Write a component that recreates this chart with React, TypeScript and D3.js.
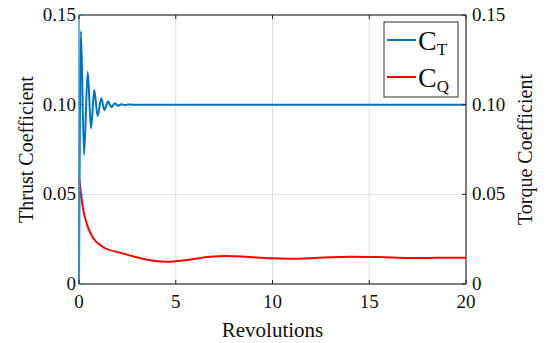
import * as d3 from 'd3'

// Thrust coefficient vs revolutions (left axis)
const ctRev = [0, 0.1, 0.26, 0.45, 0.62, 0.79, 0.96, 1.15, 1.31, 1.5, 1.68, 1.85, 2.02, 2.2, 2.38, 2.56, 2.8, 5, 10, 15, 20]
const ctVal = [0, 0.141, 0.072, 0.1184, 0.0868, 0.1082, 0.0937, 0.1036, 0.097, 0.1017, 0.0986, 0.1008, 0.0994, 0.1003, 0.0998, 0.1001, 0.1, 0.1, 0.1, 0.1, 0.1]

// Torque coefficient vs revolutions (right axis)
const cqRev = [0, 0.22, 0.45, 0.74, 1.26, 2.12, 2.98, 3.84, 4.53, 5.57, 6.77, 7.63, 8.6, 9.87, 10.9, 12.4, 14.0, 15.5, 17.1, 18.5, 20]
const cqVal = [0.0595, 0.0413, 0.032, 0.0255, 0.0205, 0.0175, 0.0149, 0.013, 0.0124, 0.0134, 0.0152, 0.0156, 0.0152, 0.0143, 0.0141, 0.0146, 0.0152, 0.015, 0.0145, 0.0146, 0.0147]

const xTicks = [0, 5, 10, 15, 20]
const yTicks = [0, 0.05, 0.1, 0.15]
const yTickLabels = ['0', '0.05', '0.10', '0.15']

const BLUE = '#0072BD'
const RED = '#ff0000'
const AXIS = '#555'
const FONT = "'Liberation Serif', serif"

export default function App() {
  const width = 546
  const height = 343
  const margin = { top: 15, right: 80, bottom: 59, left: 79 }
  const innerW = width - margin.left - margin.right
  const innerH = height - margin.top - margin.bottom

  const x = d3.scaleLinear().domain([0, 20]).range([0, innerW])
  const yL = d3.scaleLinear().domain([0, 0.15]).range([innerH, 0])
  const yR = d3.scaleLinear().domain([0, 0.15]).range([innerH, 0])

  const ctLine = d3
    .line<number>()
    .x((_, i) => x(ctRev[i]))
    .y((d) => yL(d))
    .curve(d3.curveMonotoneX)
  const cqLine = d3
    .line<number>()
    .x((_, i) => x(cqRev[i]))
    .y((d) => yR(d))
    .curve(d3.curveMonotoneX)

  const tick = 4

  return (
    <svg width={width} height={height} style={{ display: 'block', position: 'absolute', left: 0, top: 0, background: '#fff', fontFamily: FONT }}>
      <g transform={`translate(${margin.left},${margin.top})`}>
        {/* grid */}
        {xTicks.slice(1, -1).map((t) => (
          <line key={'gx' + t} x1={x(t)} x2={x(t)} y1={0} y2={innerH} stroke="#dcdcdc" strokeWidth={1} />
        ))}
        {yTicks.slice(1, -1).map((t) => (
          <line key={'gy' + t} x1={0} x2={innerW} y1={yL(t)} y2={yL(t)} stroke="#d6e6f3" strokeWidth={1} />
        ))}

        {/* curves */}
        <path d={cqLine(cqVal) || ''} fill="none" stroke={RED} strokeWidth={2} />
        <path d={ctLine(ctVal) || ''} fill="none" stroke={BLUE} strokeWidth={2} />

        {/* box */}
        <line x1={0} x2={innerW} y1={0} y2={0} stroke={AXIS} strokeWidth={1.5} />
        <line x1={0} x2={innerW} y1={innerH} y2={innerH} stroke={AXIS} strokeWidth={1.5} />
        <line x1={innerW} x2={innerW} y1={0} y2={innerH} stroke={AXIS} strokeWidth={1.5} />
        <line x1={0} x2={0} y1={0} y2={innerH} stroke="#4a90c8" strokeWidth={1.5} />

        {/* x ticks */}
        {xTicks.map((t) => (
          <g key={'xt' + t}>
            <line x1={x(t)} x2={x(t)} y1={innerH} y2={innerH - tick} stroke="#222" />
            <line x1={x(t)} x2={x(t)} y1={0} y2={tick} stroke="#222" />
            <text x={x(t)} y={innerH + 24} textAnchor="middle" fontSize={19} fill="#111">
              {t}
            </text>
          </g>
        ))}

        {/* left y ticks */}
        {yTicks.map((t, i) => (
          <g key={'yl' + t}>
            <line x1={0} x2={tick} y1={yL(t)} y2={yL(t)} stroke="#2a6fa8" />
            <text x={-3} y={yL(t) + 6} textAnchor="end" fontSize={19} fill="#111">
              {yTickLabels[i]}
            </text>
          </g>
        ))}

        {/* right y ticks */}
        {yTicks.map((t, i) => (
          <g key={'yr' + t}>
            <line x1={innerW} x2={innerW - tick} y1={yR(t)} y2={yR(t)} stroke="#222" />
            <text x={innerW + 6} y={yR(t) + 6} textAnchor="start" fontSize={19} fill="#111">
              {yTickLabels[i]}
            </text>
          </g>
        ))}

        {/* axis titles */}
        <text x={innerW / 2} y={innerH + 53} textAnchor="middle" fontSize={21} fill="#111">
          Revolutions
        </text>
        <text transform={`translate(${-46},${innerH / 2}) rotate(-90)`} textAnchor="middle" fontSize={20} fill="#111">
          Thrust Coefficient
        </text>
        <text transform={`translate(${innerW + 66},${innerH / 2}) rotate(-90)`} textAnchor="middle" fontSize={20} fill="#111">
          Torque Coefficient
        </text>

        {/* legend */}
        <g transform={`translate(${innerW - 82},7)`}>
          <rect x={0} y={0} width={74} height={75} fill="#fff" stroke="#333" strokeWidth={1} />
          <line x1={3} x2={32} y1={18} y2={18} stroke={BLUE} strokeWidth={2} />
          <text x={34} y={28} fontSize={28} fill="#111">
            C<tspan fontSize={17} dy={5}>T</tspan>
          </text>
          <line x1={3} x2={32} y1={55} y2={55} stroke={RED} strokeWidth={2} />
          <text x={34} y={65} fontSize={28} fill="#111">
            C<tspan fontSize={17} dy={5}>Q</tspan>
          </text>
        </g>
      </g>
    </svg>
  )
}
